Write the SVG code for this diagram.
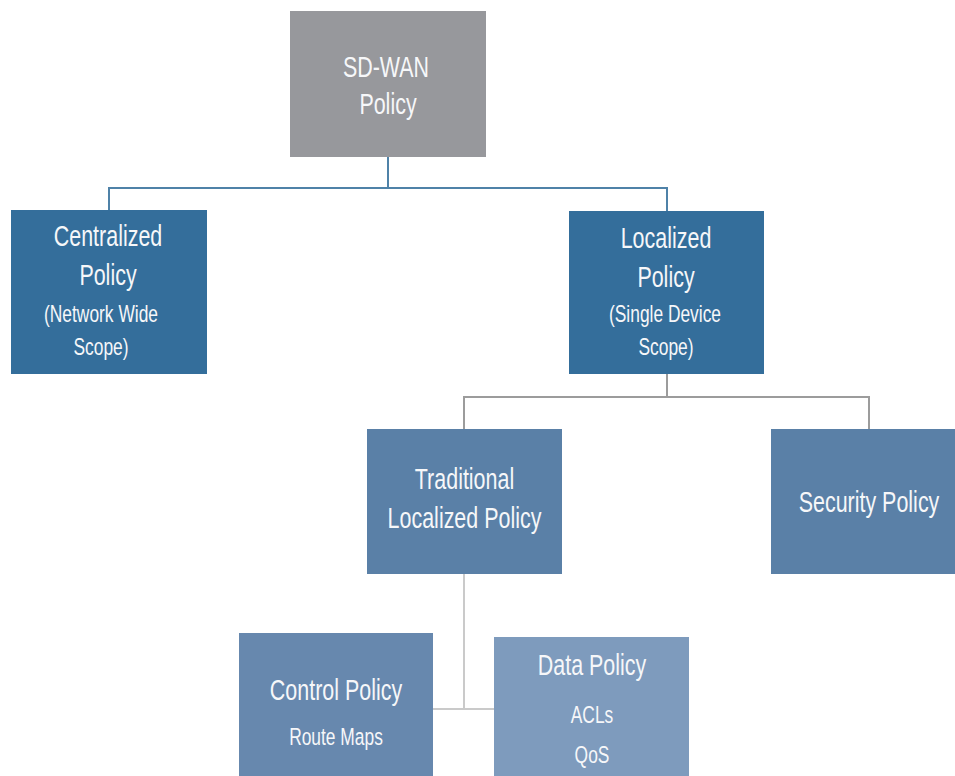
<svg xmlns="http://www.w3.org/2000/svg" width="955" height="776" viewBox="0 0 955 776">
<style>
  .lbl { font-family: "Liberation Sans", Arial, sans-serif; fill: #f6f7f9; text-anchor: middle; }
  .big { font-size: 29px; }
  .small { font-size: 23.5px; }
  .c1 { stroke: #4f82a8; stroke-width: 2; fill: none; }
  .c2 { stroke: #9c9c9c; stroke-width: 2; fill: none; }
  .c3 { stroke: #cacaca; stroke-width: 2; fill: none; }
</style>
<rect width="955" height="776" fill="#ffffff"/>
<g id="connectors">
  <path class="c1" d="M388 157 V188 M109 210 V188 H667 V211"/>
  <path class="c2" d="M667 374 V397 M464 429 V397 H869 V429"/>
  <path class="c3" d="M464 574 V709 M433 709 H494"/>
</g>
<g id="sdwan">
  <rect x="290" y="11" width="196" height="146" fill="#97989c"/>
  <text class="lbl big" transform="translate(386,77) scale(0.74,1)">SD-WAN</text>
  <text class="lbl big" transform="translate(388,114) scale(0.74,1)">Policy</text>
</g>
<g id="centralized">
  <rect x="11" y="210" width="196" height="164" fill="#346e9b"/>
  <text class="lbl big" transform="translate(108,246) scale(0.74,1)">Centralized</text>
  <text class="lbl big" transform="translate(108,285) scale(0.74,1)">Policy</text>
  <text class="lbl small" transform="translate(101,322) scale(0.74,1)">(Network Wide</text>
  <text class="lbl small" transform="translate(101,355) scale(0.74,1)">Scope)</text>
</g>
<g id="localized">
  <rect x="569" y="211" width="195" height="163" fill="#346e9b"/>
  <text class="lbl big" transform="translate(666,248) scale(0.74,1)">Localized</text>
  <text class="lbl big" transform="translate(666,287) scale(0.74,1)">Policy</text>
  <text class="lbl small" transform="translate(665,322) scale(0.74,1)">(Single Device</text>
  <text class="lbl small" transform="translate(666,355) scale(0.74,1)">Scope)</text>
</g>
<g id="traditional">
  <rect x="367" y="429" width="195" height="145" fill="#5a80a7"/>
  <text class="lbl big" transform="translate(464.5,489) scale(0.74,1)">Traditional</text>
  <text class="lbl big" transform="translate(464.5,528) scale(0.74,1)">Localized Policy</text>
</g>
<g id="security">
  <rect x="771" y="429" width="190" height="145" fill="#5a80a7"/>
  <text class="lbl big" transform="translate(869,512) scale(0.74,1)">Security Policy</text>
</g>
<g id="control">
  <rect x="239" y="633" width="194" height="150" fill="#6788ae"/>
  <text class="lbl big" transform="translate(336,700) scale(0.74,1)">Control Policy</text>
  <text class="lbl small" transform="translate(336,745) scale(0.74,1)">Route Maps</text>
</g>
<g id="data">
  <rect x="494" y="637" width="195" height="146" fill="#7e9bbd"/>
  <text class="lbl big" transform="translate(592,675) scale(0.74,1)">Data Policy</text>
  <text class="lbl small" transform="translate(592,723) scale(0.74,1)">ACLs</text>
  <text class="lbl small" transform="translate(592,763) scale(0.74,1)">QoS</text>
</g>
</svg>
